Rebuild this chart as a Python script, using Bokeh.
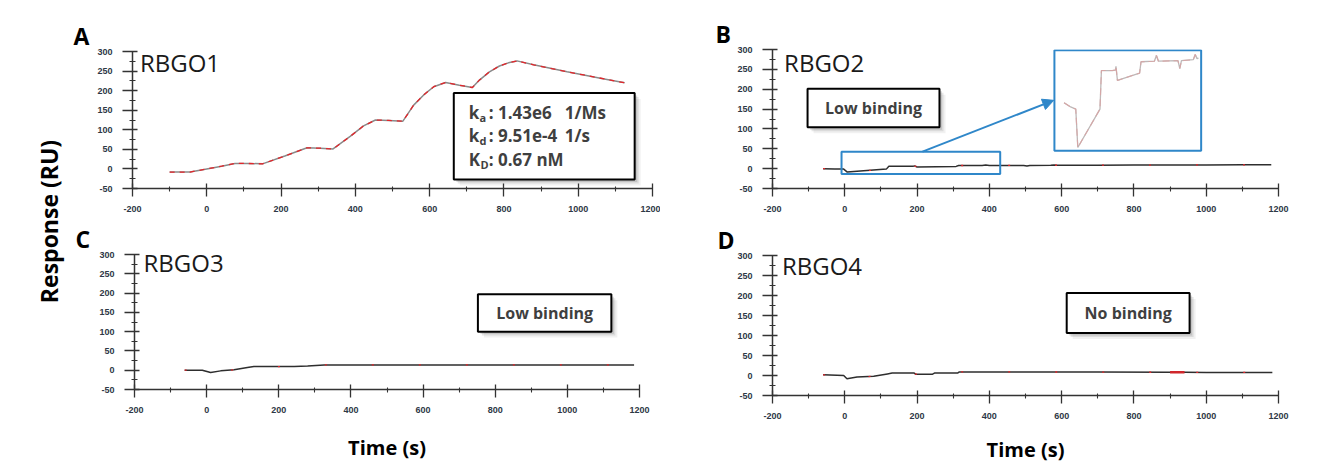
import numpy as np
from bokeh.plotting import figure
from bokeh.models import Range1d, FixedTicker, Label, Arrow, NormalHead
from bokeh.layouts import row, column
from bokeh.embed import file_html
from bokeh.resources import INLINE

# ---------------- data ----------------
x_ticks = [-200, 0, 200, 400, 600, 800, 1000, 1200]
x_labels = ["-200", "0", "200", "400", "600", "800", "1000", "1200"]
x_minor = [-100, 100, 300, 500, 700, 900, 1100]
y_ticks = [-50, 0, 50, 100, 150, 200, 250, 300]
y_labels = ["-50", "0", "50", "100", "150", "200", "250", "300"]
y_minor = [-25, 25, 75, 125, 175, 225, 275]

# RBGO1 sensorgram (time s, response RU)
a_t = [-100, -45, 0, 40, 76, 110, 150, 210, 270, 305, 340, 386, 422, 454, 490, 528,
       557, 584, 611, 643, 680, 715, 734, 761, 788, 812, 835, 880, 925, 970, 1015, 1070, 1125]
a_r = [-8, -8, 0, 7, 14, 14, 13, 33, 54, 53, 51, 83, 110, 125, 124, 122,
       163, 189, 210, 221, 214, 208, 227, 248, 263, 271, 276, 266, 257, 248, 240, 230, 220]

# RBGO2 sensorgram
b_t = [-60, -28, -3, 7, 115, 122, 175, 190, 193, 200, 308, 315, 380, 390, 400, 495, 504,
       512, 570, 579, 588, 595, 700, 800, 900, 1000, 1100, 1180]
b_r = [0, -0.8, -1.2, -8.6, -1.2, 6.2, 6.2, 6.3, 7.0, 4.3, 5.7, 7.9, 8.0, 9.1, 8.0, 8.1, 6.6,
       8.1, 8.3, 9.3, 8.5, 8.6, 8.8, 9.0, 9.2, 9.4, 9.5, 9.5]

# RBGO3 sensorgram
c_t = [-61, -12, 11, 39, 76, 113, 131, 243, 280, 326, 381, 500, 700, 900, 1100, 1185]
c_r = [0, 0, -6, -1.7, 1, 7, 9.5, 9.5, 11, 13.7, 13.7, 13.8, 13.8, 13.7, 13.7, 13.6]

# RBGO4 sensorgram
d_t = [-60, -3, 6, 34, 80, 118, 131, 192, 196, 243, 248, 312, 317, 500, 700, 900, 940, 1000, 1183]
d_r = [1.7, 0, -8.3, -4, -2, 4, 6, 6, 3.3, 3.3, 6, 6, 9, 9, 8.5, 8, 8, 7.8, 7.5]

# fitted kinetic constants for RBGO1
kin_names = [("k", "a"), ("k", "d"), ("K", "D")]
kin_values = [": 1.43e6", ": 9.51e-4", ": 0.67 nM"]
kin_units = ["1/Ms", "1/s", ""]

# ---------------- styling ----------------
X0, X1, Y0, Y1 = -200, 1200, -50, 300
AX = "#333333"
TICK_TXT = "#2e3846"
BLUE = "#2f87c9"
FONT = "Open Sans"


def panel(letter, name, w, h, left, right, top, bottom, letter_dx, xlabel=None, label_standoff=0):
    p = figure(width=w, height=h, x_range=Range1d(X0, X1), y_range=Range1d(Y0, Y1),
               output_backend="svg", toolbar_location=None, title=letter,
               min_border_left=left, min_border_right=right,
               min_border_top=top, min_border_bottom=bottom)
    p.grid.visible = False
    p.outline_line_color = None
    p.background_fill_color = "white"
    p.border_fill_color = "white"

    t = p.title
    t.text_font = FONT
    t.text_font_size = "23px"
    t.text_font_style = "bold"
    t.text_color = "black"
    t.align = "left"
    t.offset = letter_dx
    t.standoff = 0

    for ax, ticks, minor, labels in ((p.xaxis, x_ticks, x_minor, x_labels),
                                     (p.yaxis, y_ticks, y_minor, y_labels)):
        ax.ticker = FixedTicker(ticks=ticks, minor_ticks=minor)
        ax.major_label_overrides = {v: s for v, s in zip(ticks, labels)}
        ax.axis_line_color = AX
        ax.axis_line_width = 1.5
        ax.major_tick_line_color = AX
        ax.minor_tick_line_color = AX
        ax.major_tick_line_width = 1.3
        ax.minor_tick_line_width = 1.1
        ax.major_label_text_font = "Liberation Sans"
        ax.major_label_text_font_size = "9px"
        ax.major_label_text_font_style = "bold"
        ax.major_label_text_color = TICK_TXT

    p.xaxis.major_tick_out = 8
    p.xaxis.major_tick_in = 5
    p.xaxis.minor_tick_out = 3
    p.xaxis.minor_tick_in = 2
    p.xaxis.major_label_standoff = 9
    p.yaxis.major_tick_out = 10
    p.yaxis.major_tick_in = 5
    p.yaxis.minor_tick_out = 3
    p.yaxis.minor_tick_in = 3
    p.yaxis.major_label_standoff = 10

    if xlabel:
        p.xaxis.axis_label = xlabel
        p.xaxis.axis_label_text_font = FONT
        p.xaxis.axis_label_text_font_size = "20px"
        p.xaxis.axis_label_text_font_style = "bold"
        p.xaxis.axis_label_text_color = "black"
        p.xaxis.axis_label_standoff = label_standoff

    fw = w - left - right
    fh = h - top - bottom
    p._ux = (X1 - X0) / fw   # data units per pixel
    p._uy = (Y1 - Y0) / fh

    p.add_layout(Label(x=name[1], y=name[2], text=name[0], text_font=FONT,
                       text_font_size="24px", text_color="#1a1a1a",
                       text_align="left", text_baseline="middle"))
    return p


def trace(p, t, r, color, fit_dash):
    p.line(t, r, line_color=color, line_width=1.5)
    p.line(t, r, line_color="#e3262b", line_width=1.3, line_dash=fit_dash)


def text_box(p, l, r, b, t, text=None, size="16px"):
    for off, alpha in ((6, 0.10), (4, 0.18), (2.5, 0.25)):
        p.quad(left=l + off * p._ux, right=r + off * p._ux,
               bottom=b - off * p._uy, top=t - off * p._uy,
               fill_color="#7a7a7a", fill_alpha=alpha, line_color=None)
    p.quad(left=l, right=r, bottom=b, top=t, fill_color="white",
           line_color="black", line_width=2)
    if text:
        p.add_layout(Label(x=(l + r) / 2, y=(b + t) / 2, text=text, text_font=FONT,
                           text_font_size=size, text_font_style="bold",
                           text_color="#3f3f3f", text_align="center",
                           text_baseline="middle"))


LAB_W = 70

# ---------------- panel A ----------------
pa = panel("A", ("RBGO1", -180, 272), 660 - LAB_W, 220, 132 - LAB_W, 8, 51, 32, -59)
trace(pa, a_t, a_r, "#8a8a8a", "5 5")
text_box(pa, 665, 1152, -27, 194)
kin_rows = [145, 85, 25]
for (main, sub), val, unit, yb in zip(kin_names, kin_values, kin_units, kin_rows):
    common = dict(text_font=FONT, text_font_style="bold", text_color="#3f3f3f",
                  text_baseline="middle", text_align="left")
    pa.add_layout(Label(x=705, y=yb, text=main, text_font_size="17px", **common))
    pa.add_layout(Label(x=734 + (3 if main == "K" else 0), y=yb, y_offset=-5, text=sub,
                        text_font_size="11px", **common))
    pa.add_layout(Label(x=759, y=yb, text=val, text_font_size="17px", **common))
    if unit:
        pa.add_layout(Label(x=964, y=yb, text=unit, text_font_size="17px", **common))

# ---------------- panel B ----------------
pb = panel("B", ("RBGO2", -168, 268), 666, 220, 112, 48, 49, 32, -57)
trace(pb, b_t, b_r, "#2e2e2e", "2 45")
text_box(pb, -103, 262, 104, 201, "Low binding")

# zoom window onto the first part of the RBGO2 curve
zoom_src = (-9, 430, -13.6, 42.8)          # highlighted region
inset_box = (580, 986, 45.3, 298)          # where the enlargement sits
inset_view = (-107, 608, -9.2, 10.1)       # time / response window shown inside it
bx0, bx1, by0, by1 = inset_box
tv0, tv1, rv0, rv1 = inset_view
kx = (tv1 - tv0) / (bx1 - bx0)
ky = (rv1 - rv0) / (by1 - by0)
pb.extra_x_ranges = {"inset": Range1d(tv0 - (bx0 - X0) * kx, tv1 + (X1 - bx1) * kx)}
pb.extra_y_ranges = {"inset": Range1d(rv0 - (by0 - Y0) * ky, rv1 + (Y1 - by1) * ky)}

pb.quad(left=bx0, right=bx1, bottom=by0, top=by1, fill_color="white",
        line_color=BLUE, line_width=2)
pb.quad(left=zoom_src[0], right=zoom_src[1], bottom=zoom_src[2], top=zoom_src[3],
        fill_color=None, line_color=BLUE, line_width=2)
keep = [i for i, tt in enumerate(b_t) if tt <= 595]
zt = [b_t[i] for i in keep]
zr = [b_r[i] for i in keep]
pb.line(zt, zr, x_range_name="inset", y_range_name="inset",
        line_color="#bdb8b8", line_width=1.3)
pb.line(zt, zr, x_range_name="inset", y_range_name="inset",
        line_color="#d8a4a4", line_width=1.1, line_dash="7 4", line_alpha=0.9)
pb.add_layout(Arrow(end=NormalHead(size=11, fill_color=BLUE, line_color=BLUE),
                    x_start=215, y_start=zoom_src[3], x_end=bx0 - 2, y_end=172,
                    line_color=BLUE, line_width=2))

# ---------------- panel C ----------------
pc = panel("C", ("RBGO3", -175, 280), 660 - LAB_W, 245, 134 - LAB_W, 21, 33, 76, -59,
           xlabel="Time (s)", label_standoff=18)
trace(pc, c_t, c_r, "#2e2e2e", "2 45")
text_box(pc, 752, 1122, 100, 197, "Low binding")

# ---------------- panel D ----------------
pd_ = panel("D", ("RBGO4", -174, 276), 666, 245, 112, 48, 35, 70, -55,
            xlabel="Time (s)", label_standoff=14)
trace(pd_, d_t, d_r, "#2e2e2e", "2 45")
seg = [i for i, tt in enumerate(d_t) if 900 <= tt <= 940]
pd_.line([d_t[i] for i in seg], [d_r[i] for i in seg], line_color="#d0262b", line_width=2.5)
text_box(pd_, 614, 954, 106, 206, "No binding")

# ---------------- shared y label ----------------
lab = figure(width=LAB_W, height=465, x_range=Range1d(0, LAB_W), y_range=Range1d(0, 465),
             output_backend="svg", toolbar_location=None, min_border=0,
             x_axis_location=None, y_axis_location=None)
lab.grid.visible = False
lab.outline_line_color = None
lab.add_layout(Label(x=48, y=244, text="Response (RU)", angle=np.pi / 2,
                     text_align="center", text_baseline="middle", text_font=FONT,
                     text_font_size="23px", text_font_style="bold", text_color="black"))

# each panel sits in its own box so the frames keep their own widths
layout = row(lab, column(row(pa), row(pc)), column(row(pb), row(pd_)))
open("out.html", "w").write(file_html(layout, INLINE))
